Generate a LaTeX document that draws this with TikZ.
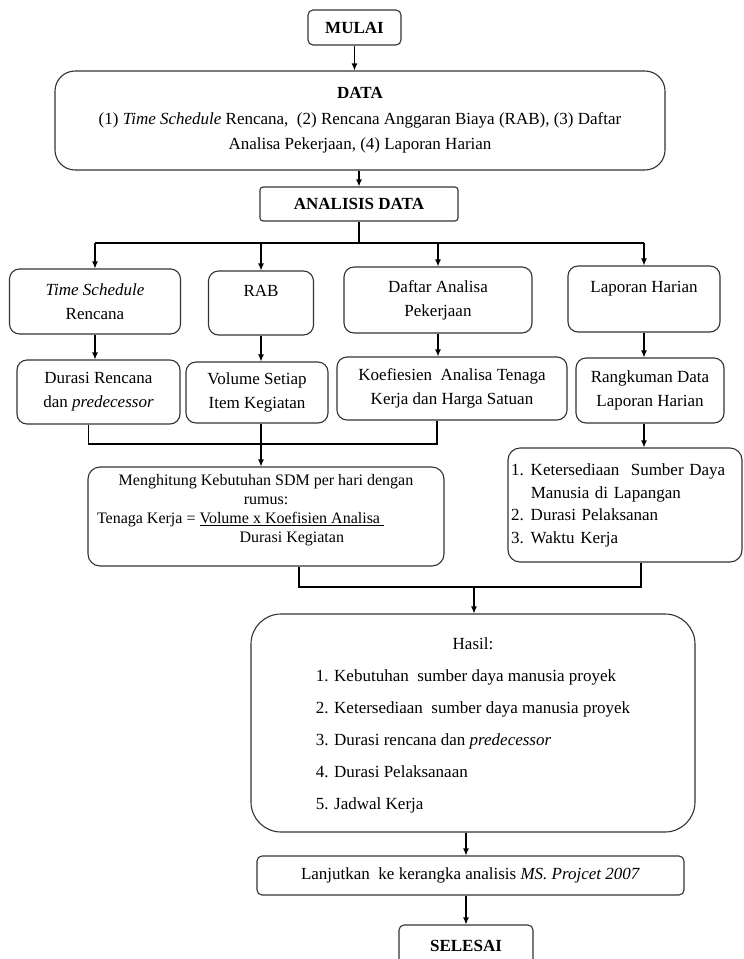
\documentclass[tikz,border=0pt]{standalone}
\usepackage{fontspec}
\setmainfont{Liberation Serif}
\usepackage{tikz}
\usetikzlibrary{arrows.meta}

\begin{document}
\begin{tikzpicture}[x=1pt, y=-1pt,
    box/.style={draw=black!80, line width=1.1pt, rectangle, rounded corners=10pt, align=center,
      inner sep=0pt, font=\fontsize{17}{24}\selectfont},
    arr/.style={-{Latex[length=7pt,width=6pt]}, line width=1.1pt},
    ln/.style={line width=1.1pt}]
    \useasboundingbox (0,0) rectangle (744,959);
    \clip (0,0) rectangle (744,959);
    \fill[white] (0,0) rectangle (744,959);

    % Start and data
    \node [box, rounded corners=5pt, minimum width=93pt, minimum height=35pt] (mulai) at (354.5,27.5) {\textbf{MULAI}};

    \node [box, rounded corners=20pt, minimum width=610pt, minimum height=99pt,
      font=\fontsize{17}{25.5}\selectfont] (data) at (360,120.5) {\textbf{DATA}\\
    (1) \textit{Time Schedule} Rencana,\ \ (2) Rencana Anggaran Biaya (RAB), (3) Daftar\\
    Analisa Pekerjaan, (4) Laporan Harian};

    \node [box, rounded corners=3pt, minimum width=198pt, minimum height=34pt] (analisis) at (359,204) {\textbf{ANALISIS DATA}};

    % Top row
    \node [box, minimum width=171pt, minimum height=65pt] (ts) at (95,301.5) {\textit{Time Schedule}\\ Rencana};
    \node [box, minimum width=105pt, minimum height=64pt] (rab) at (261,303) {RAB\\ ~};
    \node [box, minimum width=188pt, minimum height=66pt] (daftar) at (438,300) {Daftar Analisa\\ Pekerjaan};
    \node [box, minimum width=152pt, minimum height=66pt] (lapor) at (644,299) {Laporan Harian\\ ~};

    % Second row
    \node [box, minimum width=163pt, minimum height=64pt] (durasi) at (98.5,392) {Durasi Rencana\\ dan \textit{predecessor}};
    \node [box, minimum width=142pt, minimum height=61pt] (vol) at (257,392.5) {Volume Setiap\\ Item Kegiatan};
    \node [box, minimum width=230pt, minimum height=63pt] (koef) at (452,388.5) {Koefiesien\ \ Analisa Tenaga\\ Kerja dan Harga Satuan};
    \node [box, minimum width=148pt, minimum height=65pt] (rangk) at (650,390.5) {Rangkuman Data\\ Laporan Harian};

    % Calculation and field data
    \node [box, rounded corners=12pt, minimum width=356pt, minimum height=99pt,
      font=\fontsize{16}{19}\selectfont] (hitung) at (266,516.5) {Menghitung Kebutuhan SDM per hari dengan\\
    rumus:\\
    \makebox[338pt][l]{Tenaga Kerja = \begin{tabular}[t]{@{}c@{}}\underline{Volume x Koefisien Analisa\ }\\ Durasi Kegiatan\end{tabular}}\\[10pt] ~};

    \node [box, rounded corners=12pt, minimum height=114pt, text width=228pt, inner xsep=3pt, align=left,
      font=\fontsize{17}{22.5}\selectfont] (list) at (625,505) {\begin{tabular}{@{}l@{\hspace{7pt}}l@{}}
    1. & Ketersediaan\ \ Sumber Daya\\
       & Manusia di Lapangan\\
    2. & Durasi Pelaksanan\\
    3. & Waktu Kerja
    \end{tabular}};

    % Result
    \node [box, rounded corners=30pt, minimum width=444pt, minimum height=218pt,
      font=\fontsize{17}{32}\selectfont] (hasil) at (473,723) {\begin{tabular}{@{}l@{}}
    \multicolumn{1}{c}{Hasil:}\\
    1. Kebutuhan\ \ sumber daya manusia proyek\\
    2. Ketersediaan\ \ sumber daya manusia proyek\\
    3. Durasi rencana dan \textit{predecessor}\\
    4. Durasi Pelaksanaan\\
    5. Jadwal Kerja
    \end{tabular}};

    \node [box, rounded corners=5pt, minimum width=427pt, minimum height=39pt] (lanj) at (470.5,875.5) {Lanjutkan\ \ ke kerangka analisis \textit{MS. Projcet 2007}};
    \node [box, rounded corners=5pt, minimum width=134pt, minimum height=42pt] (selesai) at (466,946) {\textbf{SELESAI}};

    % Junctions
    \coordinate (bus) at (357,243);
    \coordinate (j1) at (260,444);
    \coordinate (j2) at (474,587);

    % Arrows
    \draw[arr] (mulai.south) -- (mulai.south |- data.north);
    \draw[arr] (analisis.north |- data.south) -- (analisis.north);
    \draw[ln] (analisis.south) -- (analisis.south |- bus);
    \draw[ln] (ts.north |- bus) -- (lapor.north |- bus);
    \draw[arr] (ts.north |- bus) -- (ts.north);
    \draw[arr] (rab.north |- bus) -- (rab.north);
    \draw[arr] (daftar.north |- bus) -- (daftar.north);
    \draw[arr] (lapor.north |- bus) -- (lapor.north);

    \draw[arr] (ts.south) -- (ts.south |- durasi.north);
    \draw[arr] (rab.south) -- (rab.south |- vol.north);
    \draw[arr] (daftar.south) -- (daftar.south |- koef.north);
    \draw[arr] (lapor.south) -- (lapor.south |- rangk.north);

    \draw[ln] ([xshift=-10pt]durasi.south) |- (j1) -| ([xshift=-15pt]koef.south);
    \draw[arr] (rab.south |- vol.south) -- (rab.south |- hitung.north);
    \draw[arr] (lapor.south |- rangk.south) -- (lapor.south |- list.north);

    \draw[ln] ([xshift=33pt]hitung.south) |- (j2) -| ([xshift=16pt]list.south);
    \draw[arr] (j2) -- (j2 |- hasil.north);
    \draw[arr] (selesai.north |- hasil.south) -- (selesai.north |- lanj.north);
    \draw[arr] (selesai.north |- lanj.south) -- (selesai.north);
\end{tikzpicture}
\end{document}
